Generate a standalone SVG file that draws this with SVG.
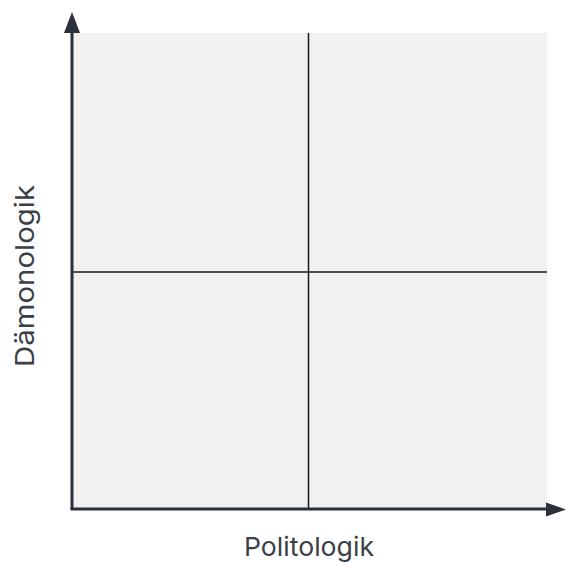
<svg xmlns="http://www.w3.org/2000/svg" width="567" height="562" viewBox="0 0 567 562">
<style>
.ax{stroke:#2b303b;stroke-width:3;fill:none}
.grid{stroke:#1a1a1a;stroke-width:1.5;fill:none}
.lbl{font-family:Inter,"Noto Sans","Liberation Sans",sans-serif;font-size:26px;fill:#3a3f48}
</style>
<defs>
<marker id="ah" viewBox="0 0 10 10" refX="0" refY="5" markerWidth="10" markerHeight="10" markerUnits="userSpaceOnUse" orient="auto">
<path d="M0,0 L10,5 L0,10 Z" fill="#2b303b"/>
</marker>
</defs>
<g id="plot">
<rect x="72" y="33" width="475" height="476" fill="#f1f1f1"/>
</g>
<g id="connectors">
<line class="grid" x1="308.5" y1="33" x2="308.5" y2="509"/>
<line class="grid" x1="72" y1="272" x2="547" y2="272"/>
<line class="ax" x1="72" y1="509" x2="72" y2="33"/>
<path d="M72,12 L80,33 L64,33 Z" fill="#2b303b"/>
<line class="ax" x1="70.5" y1="509" x2="547" y2="509"/>
<path d="M566,509.5 L546,502.5 L546,516.5 Z" fill="#2b303b"/>
</g>
<g id="label-x">
<text class="lbl" x="309" y="556" text-anchor="middle" textLength="130" lengthAdjust="spacingAndGlyphs">Politologik</text>
</g>
<g id="label-y">
<text class="lbl" transform="translate(34,276) rotate(-90)" x="0" y="0" text-anchor="middle" textLength="182" lengthAdjust="spacingAndGlyphs">Dämonologik</text>
</g>
</svg>
